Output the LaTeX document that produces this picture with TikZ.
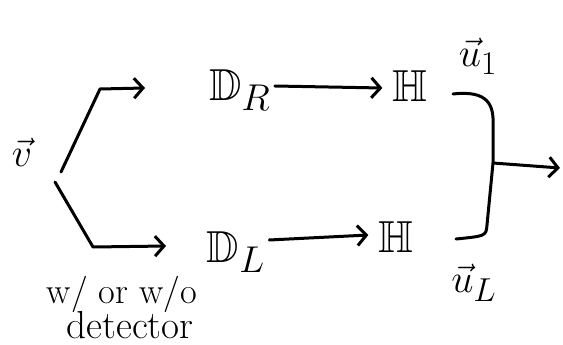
\documentclass[tikz,border=0pt]{standalone}
\usepackage{amssymb}
\usepackage{graphicx}
\usetikzlibrary{arrows.meta}
\newcommand{\hugemath}[2]{\scalebox{#1}{\Huge$#2$}}
\newcommand{\hugetext}[2]{\scalebox{#1}{\fontsize{34}{34}\selectfont #2}}
\begin{document}
\begin{tikzpicture}[x=1pt,y=-1pt,
  ink/.style={line width=3pt,line cap=round,line join=round},
  arr/.style={ink,-{Straight Barb[length=9pt,width=20pt,line width=3pt]}},
  big/.style={inner sep=0pt},
  note/.style={inner sep=0pt}]
\useasboundingbox (0,0) rectangle (563,345);
\node[big] (v) at (22,152) {\hugemath{1.6}{\vec{v}}};
\node[big] (DR) at (240,90) {\hugemath{1.8}{\mathbb{D}_R}};
\node[big] (HR) at (410,86) {\hugemath{1.8}{\mathbb{H}}};
\node[big] (DL) at (236,252) {\hugemath{1.8}{\mathbb{D}_L}};
\node[big] (HL) at (396,237) {\hugemath{1.8}{\mathbb{H}}};
\node[big] (u1) at (478,56) {\hugemath{1.6}{\vec{u}_1}};
\node[big] (uL) at (474,283) {\hugemath{1.6}{\vec{u}_L}};
\node[note] (w) at (122,294) {\hugetext{1.07}{w/ or w/o}};
\node[note] (det) at (130,325) {\hugetext{1.15}{detector}};
\coordinate (vu) at (61,172);
\coordinate (ku) at (100,89);
\coordinate (tu) at (145,88);
\coordinate (vl) at (55,182);
\coordinate (kl) at (93,247);
\coordinate (tl) at (166,246);
\coordinate (b1) at (453,94);
\coordinate (b2) at (456,239);
\coordinate (j) at (493,163);
\coordinate (out) at (560,168);
\draw[arr] (vu) -- (ku) -- (tu);
\draw[arr] (vl) -- (kl) -- (tl);
\draw[arr] (DR.east) ++(4,-4) -- ([xshift=-10pt,yshift=-2pt]HR.west);
\draw[arr] (DL.east) ++(4,-12) -- ([xshift=-10pt,yshift=2pt]HL.west);
\draw[ink] (b1) .. controls (488,90) and (494,105) .. (493,125) -- (j) -- (487,225) .. controls (486,236) .. (b2);
\draw[arr] (j) -- (out);
\end{tikzpicture}
\end{document}
